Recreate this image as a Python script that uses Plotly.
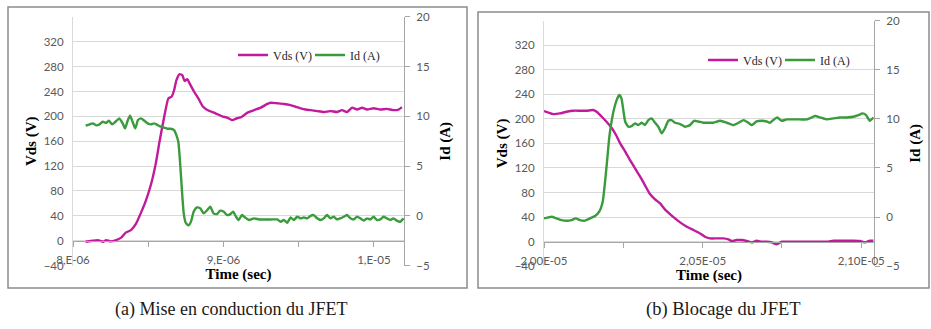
import plotly.graph_objects as go

# ---------------- data (time in microseconds) ----------------
t_on_vds = [8.084, 8.13, 8.165, 8.2, 8.22, 8.25, 8.286, 8.32, 8.35, 8.385,
            8.42, 8.45, 8.485, 8.52, 8.55, 8.577, 8.606, 8.634, 8.656, 8.672,
            8.687, 8.709, 8.727, 8.742, 8.76, 8.775, 8.804, 8.833, 8.863, 8.903,
            8.947, 8.991, 9.024, 9.057, 9.09, 9.12,
            9.16, 9.203, 9.248, 9.292, 9.314, 9.358, 9.402, 9.446, 9.48, 9.513,
            9.546, 9.579, 9.623, 9.667, 9.711, 9.755, 9.788, 9.822, 9.855, 9.888,
            9.921, 9.954, 9.998, 10.042, 10.086, 10.13, 10.164, 10.186]
vds_on = [-1.6, 0, 1, -1.6, 1, -1, 1, 5, 13, 17,
          28, 44, 65, 92, 124, 162, 199, 229, 232, 242,
          258, 268, 266, 257, 260, 253, 240, 229, 216, 209,
          205, 200, 198, 194, 197, 199,
          206, 210, 214, 220, 222, 221, 220, 218, 215.5, 213,
          211, 210, 208.5, 207, 208.5, 207, 210, 207, 214, 211,
          214, 211, 213, 211, 212, 210, 211, 215]

t_on_id = [8.084, 8.11, 8.132, 8.154, 8.176, 8.198, 8.22, 8.238, 8.26, 8.282,
           8.308, 8.33, 8.346, 8.363, 8.379, 8.396, 8.414, 8.432, 8.452, 8.474,
           8.496, 8.518, 8.54, 8.562, 8.584, 8.606, 8.628, 8.65, 8.672, 8.687,
           8.7, 8.709, 8.718, 8.727, 8.736, 8.749, 8.767, 8.784, 8.802, 8.824,
           8.846, 8.868, 8.892, 8.912, 8.934, 8.956, 8.978, 9.002, 9.024, 9.046,
           9.064, 9.084, 9.101, 9.123,
           9.137, 9.17, 9.203, 9.237, 9.27, 9.314, 9.358, 9.38, 9.402, 9.424,
           9.446, 9.468, 9.49, 9.513, 9.535, 9.557, 9.579, 9.6, 9.623, 9.645,
           9.667, 9.689, 9.711, 9.733, 9.755, 9.777, 9.8, 9.822, 9.844, 9.866,
           9.888, 9.91, 9.932, 9.954, 9.976, 9.998, 10.02, 10.042, 10.064, 10.086,
           10.108, 10.13, 10.152, 10.175, 10.197]
id_on = [9.06, 9.2, 9.3, 9.1, 9.2, 9.46, 9.36, 9.56, 9.2, 9.46,
         9.8, 9.3, 8.79, 9.56, 10.06, 9.46, 8.79, 9.63, 9.8, 9.56,
         9.3, 9.2, 9.3, 9.13, 8.96, 8.86, 8.76, 8.76, 8.63, 8.12,
         7.45, 5.94, 3.94, 1.92, 0.25, -0.69, -0.96, -0.59, 0.41, 0.85,
         0.75, 0.25, 0.58, 0.92, 0.25, 0.18, 0.52, 0.41, 0.08, 0.18,
         0.41, -0.09, -0.42, 0.08,
         -0.09, -0.42, -0.25, -0.36, -0.36, -0.36, -0.36, -0.59, -0.42, -0.69,
         -0.16, -0.42, -0.09, -0.25, -0.16, -0.25, 0.0, 0.08, -0.25, -0.42,
         -0.25, 0.08, -0.25, -0.09, -0.36, -0.25, -0.09, 0.08, -0.25, -0.36,
         -0.09, -0.25, -0.48, -0.25, -0.36, -0.09, -0.42, -0.36, -0.09, -0.25,
         -0.42, -0.25, -0.48, -0.59, -0.25]

t_off_vds = [20.0, 20.014, 20.029, 20.05, 20.071, 20.092, 20.113, 20.134, 20.155, 20.166,
             20.182, 20.197, 20.213, 20.227, 20.24, 20.255, 20.271, 20.287, 20.303, 20.318,
             20.334, 20.35, 20.366, 20.381, 20.397, 20.413, 20.429, 20.45, 20.471, 20.492,
             20.507, 20.523, 20.544, 20.565, 20.581, 20.592, 20.607, 20.623, 20.639, 20.655,
             20.67, 20.686, 20.702, 20.718, 20.733, 20.749, 20.775, 20.807, 20.838, 20.87,
             20.896, 20.912, 20.943, 20.975, 20.996, 21.012, 21.027, 21.038]
vds_off = [212.6, 210, 207.7, 208.8, 211.5, 213.2, 213.2, 213.2, 214.3, 211.5,
           203.4, 195.3, 185.5, 173.6, 160, 147.5, 132.9, 119.3, 105.8, 92.2,
           77.6, 68.9, 62.4, 52.6, 45, 38, 31.5, 24.4, 19, 13.5,
           8.1, 5.4, 5.4, 5.4, 3.8, 1.1, 2.7, 2.7, 1.1, -1.1,
           1.6, 0, 0, -1.1, -4.3, 0, 0, 0, 0, 0,
           0, 1.6, 1.6, 1.6, 1.1, -1.1, 1.6, 1.6]

t_off_id = [20.0, 20.014, 20.024, 20.04, 20.056, 20.071, 20.087, 20.1, 20.113, 20.129,
            20.145, 20.161, 20.174, 20.185, 20.193, 20.2, 20.206, 20.212, 20.22, 20.229,
            20.237, 20.244, 20.25, 20.256, 20.266, 20.276, 20.287, 20.297, 20.308, 20.318,
            20.329, 20.339, 20.35, 20.36, 20.371, 20.381, 20.392, 20.402, 20.413, 20.429,
            20.444, 20.46, 20.473, 20.486, 20.502, 20.518,
            20.534, 20.555, 20.576, 20.597, 20.613, 20.629, 20.644, 20.655, 20.67, 20.686,
            20.702, 20.712, 20.725, 20.735, 20.749, 20.765, 20.786, 20.807, 20.828, 20.844,
            20.854, 20.87, 20.891, 20.912, 20.933, 20.954, 20.975, 20.991, 21.004, 21.015,
            21.027, 21.038]
id_off = [-0.13, -0.03, 0.04, -0.13, -0.3, -0.36, -0.3, -0.13, -0.3, -0.36,
          -0.13, 0.11, 0.55, 1.57, 3.77, 6.14, 8.18, 9.54, 10.89, 11.9,
          12.42, 12.08, 10.89, 9.7, 9.2, 9.26, 9.54, 9.36, 9.6, 9.36,
          9.87, 10.04, 9.6, 9.2, 8.52, 9.03, 9.8, 9.87, 9.6, 9.47,
          9.2, 9.36, 9.8, 9.73, 9.6, 9.6,
          9.6, 9.8, 9.6, 9.36, 9.6, 9.87, 9.6, 9.36, 9.73, 9.8,
          9.73, 9.6, 9.94, 10.14, 9.8, 9.94, 9.94, 9.94, 9.94, 10.14,
          10.28, 10.14, 9.94, 10.04, 10.14, 10.14, 10.21, 10.38, 10.55, 10.38,
          9.8, 10.14]

vds_ticks = [-40, 0, 40, 80, 120, 160, 200, 240, 280, 320]
id_ticks = [-5, 0, 5, 10, 15, 20]
x_on_ticks = [8.0e-6, 8.5e-6, 9.0e-6, 9.5e-6, 1.0e-5]
x_on_labels = ["8,E-06", "", "9,E-06", "", "1,E-05"]
x_off_ticks = [2.0e-5, 2.025e-5, 2.05e-5, 2.075e-5, 2.1e-5]
x_off_labels = ["2,00E-05", "", "2,05E-05", "", "2,10E-05"]
captions = ["(a) Mise en conduction du JFET", "(b) Blocage du JFET"]

MAG = "#C11B9C"
GRN = "#399B3C"
W, H = 931, 329


def us(v):
    return [x * 1e-6 for x in v]


def px(xp):
    return xp / W


def py(yp):
    return 1 - yp / H


fig = go.Figure()
line_kw = dict(width=2.4, shape="spline", smoothing=0.5)
fig.add_trace(go.Scatter(x=us(t_on_vds), y=vds_on, name="Vds (V)", mode="lines",
                         line=dict(color=MAG, **line_kw), xaxis="x", yaxis="y", legend="legend"))
fig.add_trace(go.Scatter(x=us(t_on_id), y=id_on, name="Id (A)", mode="lines",
                         line=dict(color=GRN, **line_kw), xaxis="x", yaxis="y2", legend="legend"))
fig.add_trace(go.Scatter(x=us(t_off_vds), y=vds_off, name="Vds (V)", mode="lines",
                         line=dict(color=MAG, **line_kw), xaxis="x2", yaxis="y3", legend="legend2"))
fig.add_trace(go.Scatter(x=us(t_off_id), y=id_off, name="Id (A)", mode="lines",
                         line=dict(color=GRN, **line_kw), xaxis="x2", yaxis="y4", legend="legend2"))

tick_font = dict(family="Lato, Open Sans, sans-serif", size=11.5, color="#595959")
title_font = dict(family="Liberation Serif, serif", size=15, color="#000000")
legend_font = dict(family="Liberation Serif, serif", size=12, color="#262626")


def xaxis(dom, rng, pos, tv, tt):
    return dict(domain=dom, range=rng, anchor="free", position=pos, automargin=False,
                tickvals=tv, ticktext=tt, showgrid=False, zeroline=False,
                showline=True, linecolor="#A6A6A6", linewidth=1,
                ticks="outside", ticklen=5, tickcolor="#A6A6A6",
                ticklabelstandoff=3, tickfont=tick_font,
                title=dict(text="<b>Time (sec)</b>", font=title_font, standoff=2))


def yleft(dom, anchor):
    return dict(domain=dom, range=[-40, 360], anchor=anchor, tickvals=vds_ticks,
                automargin=False,
                showgrid=True, gridcolor="#D9D9D9", gridwidth=1, zeroline=False,
                showline=True, linecolor="#D9D9D9", ticks="", tickfont=tick_font,
                ticklabelstandoff=6,
                title=dict(text="<b>Vds (V)</b>", font=title_font, standoff=3))


def yright(over, anchor):
    return dict(overlaying=over, side="right", anchor=anchor, range=[-5, 20],
                automargin=False,
                tickvals=id_ticks, showgrid=False, zeroline=False,
                showline=True, linecolor="#A6A6A6", ticks="outside", ticklen=5,
                tickcolor="#A6A6A6", tickfont=tick_font, ticklabelstandoff=4,
                title=dict(text="<b>Id (A)</b>", font=title_font, standoff=10))


fig.update_layout(
    template="none",
    width=W, height=H, margin=dict(l=0, r=0, t=0, b=0, autoexpand=False),
    paper_bgcolor="white", plot_bgcolor="white",
    xaxis=xaxis([px(73), px(404)], [8.0e-6, 10.2e-6], py(240.7), x_on_ticks, x_on_labels),
    yaxis=yleft([py(265.6), py(16.9)], "x"),
    yaxis2=yright("y", "x"),
    xaxis2=xaxis([px(544), px(874)], [2.0e-5, 2.104e-5], py(241.7), x_off_ticks, x_off_labels),
    yaxis3=yleft([py(266.3), py(20.5)], "x2"),
    yaxis4=yright("y3", "x2"),
    legend=dict(orientation="h", x=px(233), y=py(55), xanchor="left", yanchor="middle",
                bgcolor="rgba(0,0,0,0)", font=legend_font, entrywidth=32, tracegroupgap=0),
    legend2=dict(orientation="h", x=px(703), y=py(60), xanchor="left", yanchor="middle",
                 bgcolor="rgba(0,0,0,0)", font=legend_font, entrywidth=32, tracegroupgap=0),
    showlegend=True,
    shapes=[
        dict(type="rect", xref="paper", yref="paper", x0=px(8), x1=px(467), y0=py(288), y1=py(7),
             line=dict(color="#8C8C8C", width=1.5), layer="below"),
        dict(type="rect", xref="paper", yref="paper", x0=px(478), x1=px(929), y0=py(288), y1=py(12),
             line=dict(color="#8C8C8C", width=1.5), layer="below"),
    ],
    annotations=[
        dict(text=captions[0], x=px(231), y=py(309), xref="paper", yref="paper",
             showarrow=False, xanchor="center", yanchor="middle",
             font=dict(family="Liberation Serif, serif", size=18, color="#1a1a1a")),
        dict(text=captions[1], x=px(723), y=py(309), xref="paper", yref="paper",
             showarrow=False, xanchor="center", yanchor="middle",
             font=dict(family="Liberation Serif, serif", size=18.5, color="#1a1a1a")),
    ],
)

fig.write_html("out.html",
               config={"displayModeBar": False, "staticPlot": True},
               post_script="document.body.style.margin='0';document.body.style.overflow='hidden';")
